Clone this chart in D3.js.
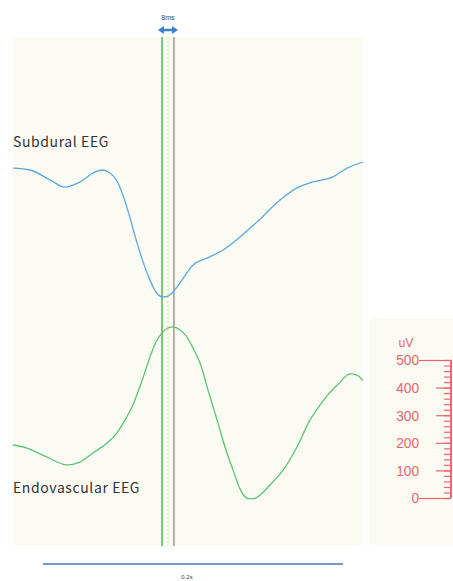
<!DOCTYPE html>
<html>
<head>
<meta charset="utf-8">
<script src="https://cdn.jsdelivr.net/npm/d3@7"></script>
<style>
  body { margin: 0; background: #ffffff; }
  svg { display: block; }
</style>
</head>
<body>
<div id="chart"></div>
<script>
// time in ms from left edge of panel, amplitude in uV
const subduralTimes = [0, 11.3, 24.7, 34.7, 44.7, 54.7, 59.3, 64.7, 69.3, 73.3, 78, 82.7, 86.7, 91.3, 95.3,
    100, 103.3, 106.7, 111.3, 120, 129.3, 140, 151.3, 162.7, 178, 189.3, 200, 213.3, 222.7, 233.3];
const subduralValues = [478, 471, 435, 409, 428, 464, 471, 460, 431, 380, 297, 207, 138, 72, 29,
    11, 14, 29, 62, 127, 152, 181, 228, 283, 362, 406, 428, 446, 478, 500];

const endoTimes = [0, 9.3, 21.3, 36, 44.7, 53.3, 62.7, 69.3, 74.7, 80, 86, 91.3, 95.3, 99.3, 103.3,
    106.7, 111.3, 116, 120, 124.7, 130, 136, 141.3, 146.7, 151.3, 156.7, 160.7, 164.7, 171.3, 180,
    189.3, 198, 204.7, 209.3, 216.7, 224.7, 229.3, 233.3];
const endoValues = [192, 181, 152, 120, 130, 163, 199, 236, 283, 338, 425, 511, 565, 598, 616,
    620, 609, 583, 543, 489, 391, 283, 185, 101, 33, -2, -2, 11, 47, 101,
    185, 283, 337, 370, 412, 450, 445, 425];

const cursorTimes = [99.3, 103.3, 107.3];   // green, yellow dotted, gray
const scaleTicks = [0, 100, 200, 300, 400, 500];
const timeBar = [20, 220];                 // 0.2 s bar

const width = 453, height = 581;
const panel = { left: 13, right: 363, top: 37, bottom: 546 };

const svg = d3.select("#chart").append("svg")
    .attr("width", width)
    .attr("height", height);

const x = d3.scaleLinear().domain([0, 233.3]).range([panel.left, panel.right]);
const yEndo = d3.scaleLinear().domain([0, 500]).range([498, 360]);
const ySub = d3.scaleLinear().domain([0, 500]).range([300, 162]);

// background panels
svg.append("rect")
    .attr("x", panel.left).attr("y", panel.top)
    .attr("width", panel.right - panel.left).attr("height", panel.bottom - panel.top)
    .attr("fill", "#fcfbf3");
svg.append("rect")
    .attr("x", 370).attr("y", 318)
    .attr("width", 83).attr("height", 227)
    .attr("fill", "#fcfbf3");

// cursors
const cursorColors = ["#4fc24f", "#eee88a", "#8a8a8a"];
svg.selectAll("line.cursor")
    .data(cursorTimes)
    .enter()
    .append("line")
    .attr("class", "cursor")
    .attr("x1", d => x(d)).attr("x2", d => x(d))
    .attr("y1", panel.top).attr("y2", panel.bottom)
    .attr("stroke", (d, i) => cursorColors[i])
    .attr("stroke-width", (d, i) => i === 0 ? 1.6 : 1.3)
    .attr("stroke-dasharray", (d, i) => i === 1 ? "2,2" : null);

// traces
const line = y => d3.line()
    .x(d => x(d[0]))
    .y(d => y(d[1]))
    .curve(d3.curveMonotoneX);

svg.append("path")
    .datum(d3.zip(subduralTimes, subduralValues))
    .attr("d", line(ySub))
    .attr("fill", "none")
    .attr("stroke", "#5aa8e0")
    .attr("stroke-width", 1.3);

svg.append("path")
    .datum(d3.zip(endoTimes, endoValues))
    .attr("d", line(yEndo))
    .attr("fill", "none")
    .attr("stroke", "#5cc27a")
    .attr("stroke-width", 1.3);

// trace labels
const labelFont = "'Noto Sans CJK JP', 'Noto Sans', sans-serif";
svg.append("text")
    .attr("x", 13).attr("y", 147)
    .attr("fill", "#333")
    .style("font-family", labelFont)
    .style("font-size", "14px")
    .style("letter-spacing", "0.6px")
    .text("Subdural EEG");
svg.append("text")
    .attr("x", 13).attr("y", 493)
    .attr("fill", "#333")
    .style("font-family", labelFont)
    .style("font-size", "14px")
    .style("letter-spacing", "0.6px")
    .text("Endovascular EEG");

// 8ms marker
svg.append("text")
    .attr("x", (x(cursorTimes[0]) + x(cursorTimes[2])) / 2)
    .attr("y", 20)
    .attr("text-anchor", "middle")
    .attr("fill", "#444")
    .style("font-family", "'Liberation Sans', Arial, sans-serif")
    .style("font-size", "7px")
    .text("8ms");
const ax1 = x(cursorTimes[0]) - 4, ax2 = x(cursorTimes[2]) + 4, ay = 30;
svg.append("path")
    .attr("d", `M${ax1},${ay} L${ax1 + 6},${ay - 4} L${ax1 + 6},${ay - 1.2} L${ax2 - 6},${ay - 1.2} L${ax2 - 6},${ay - 4} L${ax2},${ay} L${ax2 - 6},${ay + 4} L${ax2 - 6},${ay + 1.2} L${ax1 + 6},${ay + 1.2} L${ax1 + 6},${ay + 4} Z`)
    .attr("fill", "#3b7fd0");

// amplitude scale
const red = "#e8646c";
const scaleX = 451;
const g = svg.append("g")
    .attr("transform", `translate(${scaleX},0)`)
    .attr("color", red);

g.call(d3.axisLeft(yEndo).tickValues(d3.range(0, 501, 20)).tickSize(7).tickFormat(""));
g.append("g").call(d3.axisLeft(yEndo).tickValues([100, 200, 300, 400]).tickSize(15).tickFormat(""));
g.append("g").call(d3.axisLeft(yEndo).tickValues([0, 500]).tickSize(32).tickFormat(""));
g.selectAll(".domain").attr("d", `M0,${yEndo(500)}V${yEndo(0)}`);
g.selectAll("line, path").attr("stroke-width", 1.2);

const numFont = "'Liberation Sans', Arial, sans-serif";
svg.selectAll("text.tick-label")
    .data(scaleTicks)
    .enter()
    .append("text")
    .attr("class", "tick-label")
    .attr("x", 419)
    .attr("y", d => yEndo(d))
    .attr("dy", "0.36em")
    .attr("text-anchor", "end")
    .attr("fill", red)
    .attr("textLength", d => String(d).length * 7.6)
    .attr("lengthAdjust", "spacingAndGlyphs")
    .style("font-family", numFont)
    .style("font-size", "15px")
    .text(d => d);

svg.append("text")
    .attr("x", 406).attr("y", 347)
    .attr("text-anchor", "middle")
    .attr("fill", red)
    .attr("textLength", 15)
    .attr("lengthAdjust", "spacingAndGlyphs")
    .style("font-family", numFont)
    .style("font-size", "13px")
    .text("uV");

// time bar
svg.append("line")
    .attr("x1", x(timeBar[0])).attr("x2", x(timeBar[1]))
    .attr("y1", 564).attr("y2", 564)
    .attr("stroke", "#4a72b0")
    .attr("stroke-width", 1.3);
svg.append("text")
    .attr("x", 187).attr("y", 579)
    .attr("text-anchor", "middle")
    .attr("fill", "#444")
    .style("font-family", "'Liberation Sans', Arial, sans-serif")
    .style("font-size", "6px")
    .text("0.2s");
</script>
</body>
</html>
